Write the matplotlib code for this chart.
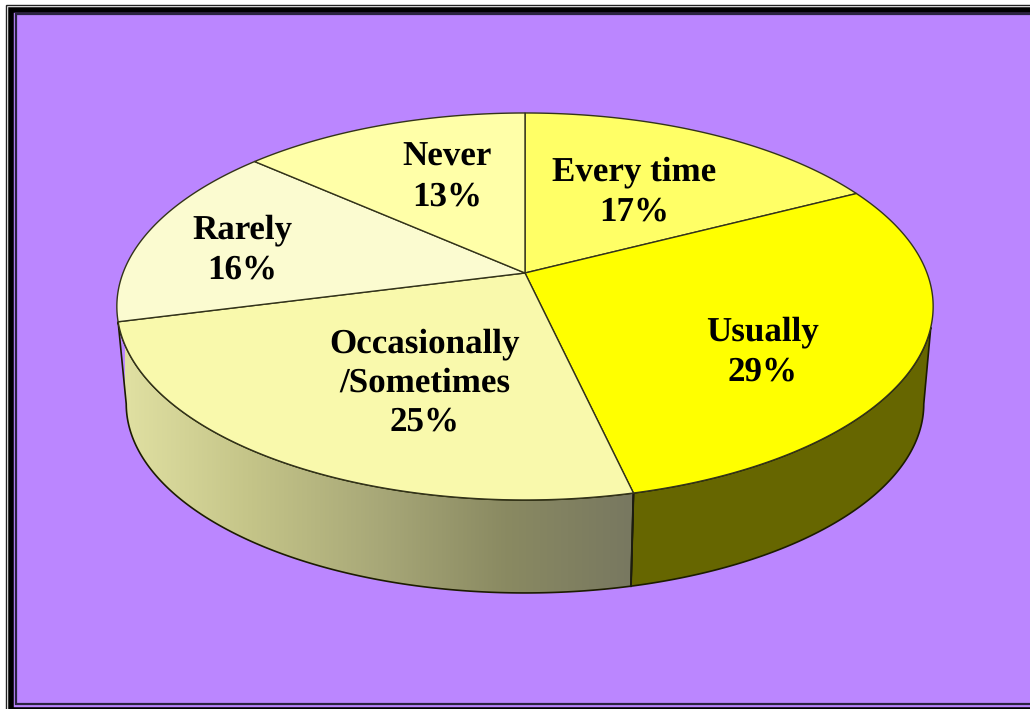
import numpy as np
import matplotlib
matplotlib.use("Agg")
import matplotlib.pyplot as plt
from matplotlib.patches import Polygon, Rectangle
from matplotlib.colors import LinearSegmentedColormap

plt.rcParams["text.hinting"] = "no_hinting"
plt.rcParams["text.hinting_factor"] = 1

labels = ["Every time", "Usually", "Occasionally\n/Sometimes", "Rarely", "Never"]
values = [17.45, 28.95, 24.6, 15.51, 13.49]
top_colors = ["#FFFF66", "#FFFF00", "#F9F9AC", "#FBFBD0", "#FFFFA8"]
label_xy = [(634, 192), (763, 352), (425, 383), (242, 250), (447, 177)]

BG = "#BB86FF"
cx, cy = 525, 273
a, b, k = 187.7, 402.0, 0.173
shrink, depth = 0.977, 98.2


def top_pt(theta):
    th = np.radians(theta)
    u, v = np.sin(th), np.cos(th)
    d = 1 + k * v
    return cx + b * u / d, cy - a * v / d


def bottom_pt(theta):
    x, y = top_pt(theta)
    return cx + (x - cx) * shrink, cy + depth + (y - cy) * shrink


def arc(fn, t0, t1, n=200):
    x, y = fn(np.linspace(t0, t1, n))
    return np.column_stack([x, y])


fig = plt.figure(figsize=(10.3, 7.09), dpi=100, facecolor="white")
ax = fig.add_axes([0, 0, 1, 1])
ax.set_axis_off()

# frame
ax.add_patch(Rectangle((5.5, 4.5), 1100, 800, fc="white", ec="#222222", lw=1, zorder=0))
ax.add_patch(Rectangle((10.5, 9.5), 1100, 700.5, fc=BG, ec="black", lw=4, zorder=0.1))
ax.add_patch(Rectangle((15.5, 13.5), 1100, 690, fc=BG, ec="#2a2340", lw=1.6, zorder=0.2))

edges = np.concatenate([[0], np.cumsum(values)]) / sum(values) * 360

# side walls
split = edges[2]
right_side = np.vstack([arc(top_pt, 106, split), arc(bottom_pt, split, 100)])
left_side = np.vstack([arc(top_pt, split, edges[3]), arc(bottom_pt, 260, split)])

ax.add_patch(Polygon(right_side, closed=True, fc="#666600", ec="#1c1c00", lw=1.2, zorder=1))
cmap = LinearSegmentedColormap.from_list(
    "side", ["#E0E0A2", "#C4C488", "#A8A878", "#8A8A62", "#787860"])
clip = Polygon(left_side, closed=True, fc="none", ec="#1c1c00", lw=1.2, zorder=2)
ax.add_patch(clip)
im = ax.imshow(np.linspace(0, 1, 256)[None, :], extent=(125, 632, 600, 300), cmap=cmap,
               aspect="auto", zorder=1.5)
im.set_clip_path(clip)

# top wedges
for lo, hi, col in zip(edges[:-1], edges[1:], top_colors):
    pts = np.vstack([[[cx, cy]], arc(top_pt, lo, hi)])
    ax.add_patch(Polygon(pts, closed=True, fc=col, ec="#33331a", lw=1.0, zorder=3))

ax.plot(*zip(bottom_pt(split), top_pt(split)), color="#1c1c10", lw=1.4, zorder=2.5)

for lab, val, (x, y) in zip(labels, values, label_xy):
    ax.text(x, y, f"{lab}\n{val:.0f}%", ha="center", va="center", family="Liberation Serif",
            weight="bold", fontsize=25, color="black", linespacing=1.31, zorder=4)

ax.set_xlim(0, 1030)
ax.set_ylim(709, 0)
fig.savefig("out.png", dpi=100, facecolor="white")
